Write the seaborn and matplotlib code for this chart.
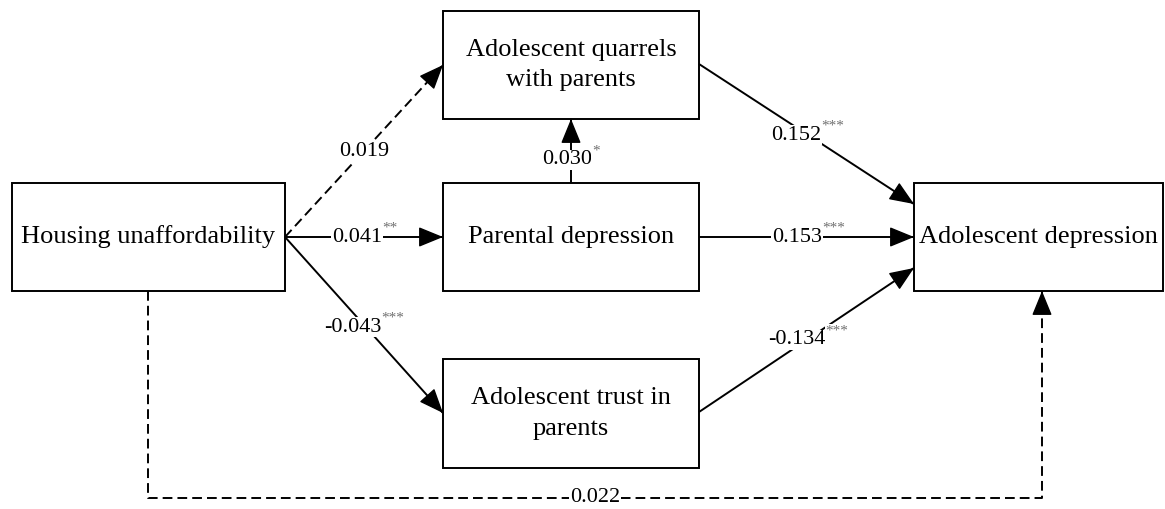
import matplotlib.pyplot as plt
import seaborn as sns
from matplotlib.patches import Rectangle

# path model: nodes, coefficients and significance stars
nodes = ["Housing unaffordability", "Adolescent quarrels\nwith parents",
         "Parental depression", "Adolescent trust in\nparents", "Adolescent depression"]
coefs = ["0.019", "0.041", "-0.043", "0.030", "0.152", "0.153", "-0.134", "0.022"]
stars = ["", "**", "***", "*", "***", "***", "***", ""]
dashed = [True, False, False, False, False, False, False, True]

sns.set_theme(style="white")
plt.rcParams['font.family'] = ['Liberation Serif', 'DejaVu Serif']
plt.rcParams['text.color'] = 'black'

# layout in pixel coordinates (x0, y0, x1, y1)
boxes = [(12, 183, 285, 291), (443, 11, 699, 119), (443, 183, 699, 291),
         (443, 359, 699, 468), (914, 183, 1163, 291)]
# path geometry: list of points, last point is arrow tip
paths = [
    [(285, 237), (443, 65)],
    [(285, 237), (443, 237)],
    [(285, 237), (443, 413)],
    [(571, 183), (571, 119)],
    [(699, 64), (914, 204)],
    [(699, 237), (914, 237)],
    [(699, 412), (914, 268)],
    [(148, 291), (148, 498), (1042, 498), (1042, 291)],
]
label_pos = [(364, 152), (357, 237), (353, 327), (567, 160),
             (796, 135), (797, 237), (797, 340), (595, 498)]

fig = plt.figure(figsize=(11.65, 5.09), dpi=100)
ax = fig.add_axes([0, 0, 1, 1])
ax.set_xlim(0, 1165)
ax.set_ylim(509, 0)
ax.axis("off")

for (x0, y0, x1, y1), name in zip(boxes, nodes):
    ax.add_patch(Rectangle((x0, y0), x1 - x0, y1 - y0, fill=False,
                           edgecolor="black", lw=1.4, zorder=2))
    ax.text((x0 + x1) / 2, (y0 + y1) / 2, name, ha="center", va="center",
            fontsize=19, linespacing=1.5, color="black", zorder=3)

for pts, dash, c, s, (lx, ly) in zip(paths, dashed, coefs, stars, label_pos):
    xs = [p[0] for p in pts]
    ys = [p[1] for p in pts]
    ls = (0, (5, 2.6)) if dash else "-"
    ax.plot(xs, ys, color="black", lw=1.4, linestyle=ls, zorder=1,
            solid_capstyle="butt")
    # arrow head on the final segment
    (ax0, ay0), (ax1, ay1) = pts[-2], pts[-1]
    ax.annotate("", xy=(ax1, ay1), xytext=(ax1 - (ax1 - ax0) * 0.01, ay1 - (ay1 - ay0) * 0.01),
                arrowprops=dict(arrowstyle="-|>,head_length=1.1,head_width=0.45",
                                color="black", lw=1.0, mutation_scale=14,
                                shrinkA=0, shrinkB=0), zorder=4)
    t = ax.text(lx, ly, c, ha="center", va="center", fontsize=16, color="black", zorder=5,
                bbox=dict(facecolor="white", edgecolor="none", pad=0.5))
    if s:
        ax.annotate(s, xy=(1, 0.95), xycoords=t, ha="left", va="center",
                    fontsize=11, color="#707070", zorder=5,
                    bbox=dict(facecolor="white", edgecolor="none", pad=0.5))

fig.savefig("out.png", dpi=100)
